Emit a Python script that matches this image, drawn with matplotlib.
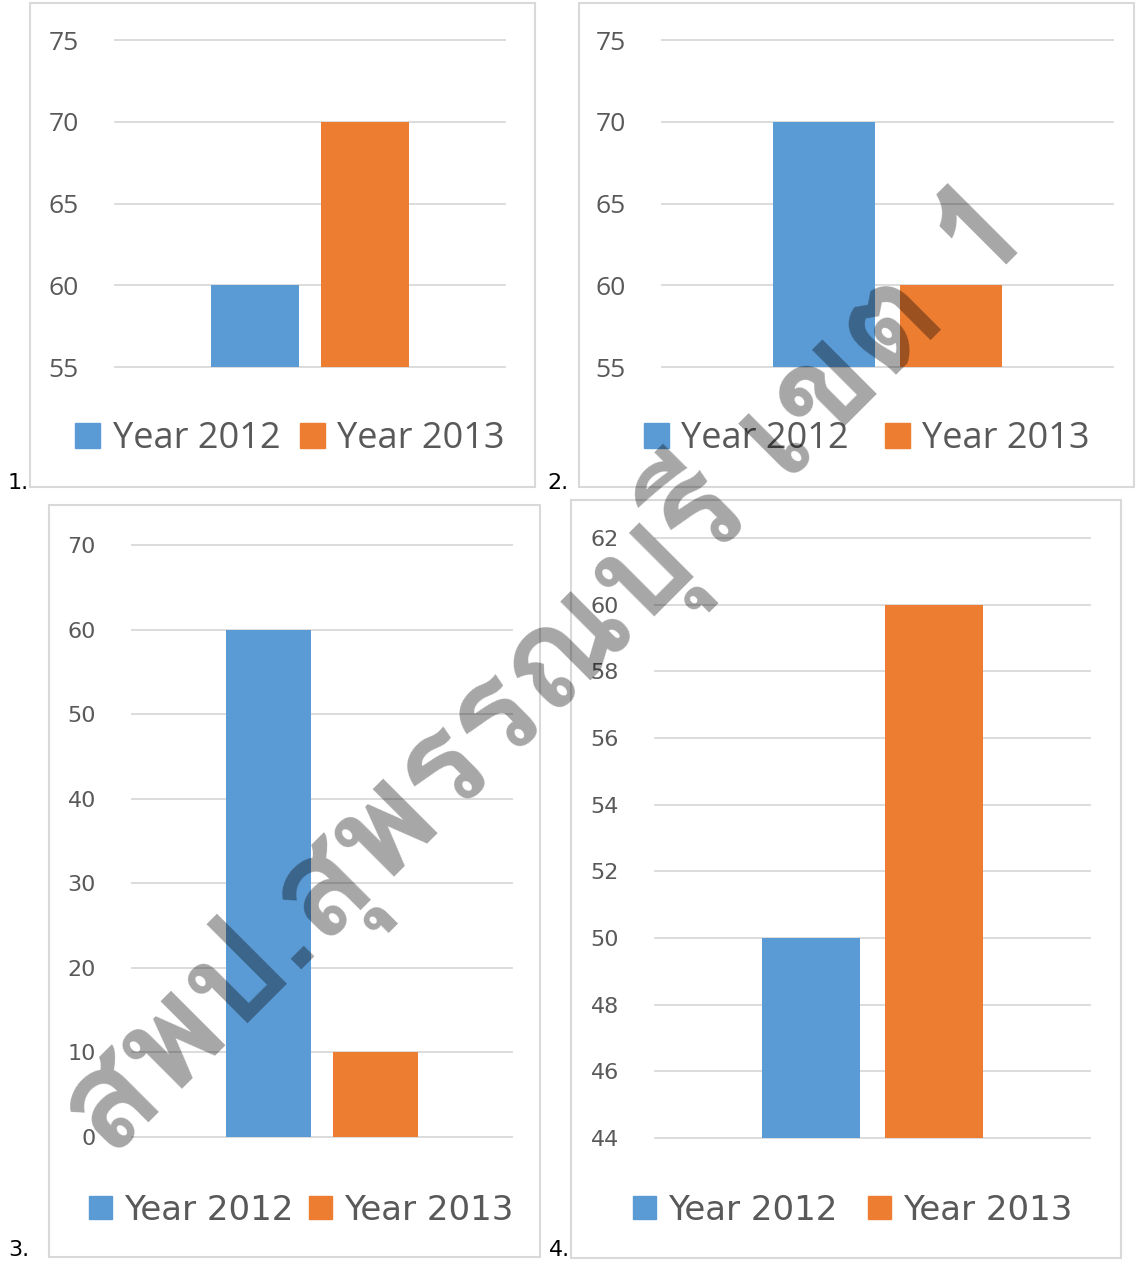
import numpy as np
import matplotlib
matplotlib.use("Agg")
import matplotlib.pyplot as plt
from matplotlib import font_manager
from matplotlib.ft2font import FT2Font
from matplotlib.patches import Rectangle, Patch

W, H = 1136, 1261

series = ["Year 2012", "Year 2013"]
colors = ["#5B9BD5", "#ED7D31"]

values_1 = [60, 70]
values_2 = [70, 60]
values_3 = [60, 10]
values_4 = [50, 60]
all_values = [values_1, values_2, values_3, values_4]

y_min = [55, 55, 0, 44]
y_max = [75, 75, 70, 62]
y_step = [5, 5, 10, 2]
numbers = ["1.", "2.", "3.", "4."]
watermark = "สพป.สุพรรณบุรี เขต 1"

# layout in pixels: outer box, plot area, legend centre, number position
boxes = [(30, 3, 535, 487), (579, 3, 1134, 487), (49, 505, 540, 1257), (571, 500, 1121, 1258)]
plots = [(115, 40, 505, 367), (662, 40, 1113, 367), (132, 545, 512, 1137), (655, 538, 1090, 1138)]
legend_pos = [(290, 439), (867, 439), (301, 1210), (853, 1210)]
col_space = [0.55, 1.0, 0.45, 0.9]
number_pos = [(8, 489), (547, 489), (8, 1256), (549, 1256)]
fonts = ["Open Sans", "Open Sans", "DejaVu Sans", "DejaVu Sans"]
tick_sizes = [19, 19, 16, 16]
legend_sizes = [26, 26, 24.5, 24.5]
grey = "#595959"
line = "#D9D9D9"


def thai_font():
    found = []
    for f in font_manager.fontManager.ttflist:
        try:
            if 0x0E2A in FT2Font(f.fname).get_charmap():
                found.append(f)
        except Exception:
            pass
    if not found:
        return font_manager.FontProperties(family="DejaVu Sans", weight="bold")
    bold = [f for f in found if str(f.weight) in ("700", "bold")] or found
    return font_manager.FontProperties(fname=bold[0].fname)


def fx(x):
    return x / W


def fy(y):
    return 1 - y / H


fig = plt.figure(figsize=(W / 100, H / 100), dpi=100)

for i in range(4):
    bx0, by0, bx1, by1 = boxes[i]
    fig.patches.append(Rectangle((fx(bx0), fy(by1)), fx(bx1 - bx0), (by1 - by0) / H,
                                 transform=fig.transFigure, fill=False,
                                 edgecolor=line, linewidth=1.5))
    px0, py0, px1, py1 = plots[i]
    ax = fig.add_axes([fx(px0), fy(py1), fx(px1 - px0), (py1 - py0) / H])
    vals = all_values[i]
    for k in range(2):
        ax.bar(-0.141 + 0.282 * k, vals[k], width=0.225, color=colors[k], zorder=2)
    ax.set_xlim(-0.5, 0.5)
    ax.set_ylim(y_min[i], y_max[i])
    ax.set_yticks(np.arange(y_min[i], y_max[i] + y_step[i], y_step[i]))
    ax.set_xticks([])
    ax.grid(axis="y", color=line, linewidth=1.3, zorder=0)
    for gl in ax.get_ygridlines():
        gl.set_clip_on(False)
    for s in ax.spines.values():
        s.set_visible(False)
    ax.tick_params(axis="y", length=0, pad=26, labelsize=tick_sizes[i], labelcolor=grey)
    for lab in ax.get_yticklabels():
        lab.set_family(fonts[i])
    ax.patch.set_alpha(0)

    handles = [Patch(color=c) for c in colors]
    lx, ly = legend_pos[i]
    fig.legend(handles, series, loc="center", bbox_to_anchor=(fx(lx), fy(ly)), ncol=2,
               frameon=False, handlelength=0.68, handleheight=0.68, handletextpad=0.35,
               columnspacing=col_space[i], borderpad=0,
               prop={"family": fonts[i], "size": legend_sizes[i]}, labelcolor=grey)

    nx, ny = number_pos[i]
    fig.text(fx(nx), fy(ny), numbers[i], fontsize=16, family="DejaVu Sans",
             color="black", ha="left", va="baseline")

fig.text(fx(545), fy(670), watermark, rotation=45, ha="center", va="center",
         fontproperties=thai_font(), fontsize=99, color="black", alpha=0.35, zorder=10)

fig.savefig("out.png", dpi=100)
